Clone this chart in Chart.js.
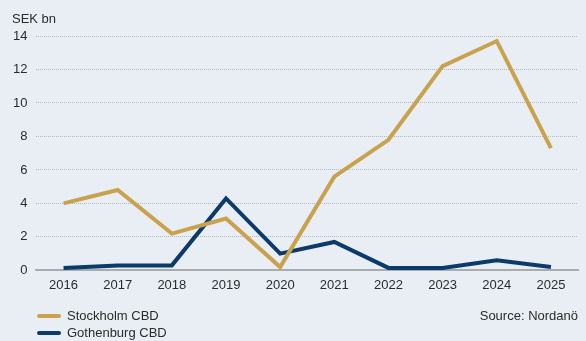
<!DOCTYPE html>
<html>
<head>
<meta charset="utf-8">
<script src="https://cdn.jsdelivr.net/npm/chart.js@4"></script>
<style>
  html, body { margin: 0; padding: 0; background: #e9eef5; }
  #wrap { position: relative; width: 586px; height: 341px; font-family: "Liberation Sans", Arial, sans-serif; color: #2b2b2b; }
  #unit { position: absolute; left: 12px; top: 11px; font-size: 13px; }
  .legend { position: absolute; left: 37px; font-size: 13px; display: flex; align-items: center; }
  .legend i { display: inline-block; width: 24px; height: 4px; border-radius: 2px; margin-right: 6px; }
  #source { position: absolute; right: 8px; top: 308px; font-size: 13px; }
</style>
</head>
<body>
<div id="wrap">
  <canvas id="chart" width="586" height="341"></canvas>
  <div id="unit">SEK bn</div>
  <div class="legend" style="top:308px"><i style="background:#c9a24f"></i>Stockholm CBD</div>
  <div class="legend" style="top:325px"><i style="background:#0b3a6b"></i>Gothenburg CBD</div>
  <div id="source">Source: Nordanö</div>
</div>
<script>
// Transaction volume per year, SEK bn
const years = ['2016', '2017', '2018', '2019', '2020', '2021', '2022', '2023', '2024', '2025'];
const stockholm = [4.0, 4.8, 2.2, 3.1, 0.2, 5.6, 7.8, 12.2, 13.7, 7.3];
const gothenburg = [0.15, 0.3, 0.3, 4.3, 1.0, 1.7, 0.15, 0.15, 0.6, 0.2];
const yTicks = [0, 2, 4, 6, 8, 10, 12, 14];

const font = { family: '"Liberation Sans", Arial, sans-serif', size: 13 };

new Chart(document.getElementById('chart'), {
    type: 'line',
    data: {
        labels: years,
        datasets: [
            { label: 'Stockholm CBD', data: stockholm, borderColor: '#c9a24f', borderWidth: 4, pointRadius: 0, tension: 0 },
            { label: 'Gothenburg CBD', data: gothenburg, borderColor: '#0b3a6b', borderWidth: 4, pointRadius: 0, tension: 0 }
        ]
    },
    options: {
        responsive: false,
        animation: false,
        layout: { padding: { top: 36, right: 8, bottom: 41, left: 4 } },
        plugins: { legend: { display: false }, tooltip: { enabled: false } },
        scales: {
            x: {
                offset: true,
                grid: { display: false, drawTicks: false },
                border: { display: true, color: '#a9abae', width: 2 },
                ticks: { color: '#2b2b2b', font: font, padding: 7, maxRotation: 0 }
            },
            y: {
                min: 0,
                max: 14,
                afterBuildTicks: axis => { axis.ticks = yTicks.map(v => ({ value: v })); },
                grid: {
                    // zero line is drawn by the x-axis border instead
                    color: ctx => ctx.tick && ctx.tick.value === 0 ? 'rgba(0,0,0,0)' : '#b3b6ba',
                    lineWidth: 1,
                    drawTicks: false
                },
                border: { display: false, dash: [1, 1] },
                ticks: { color: '#2b2b2b', font: font, padding: 9 }
            }
        }
    }
});
</script>
</body>
</html>
